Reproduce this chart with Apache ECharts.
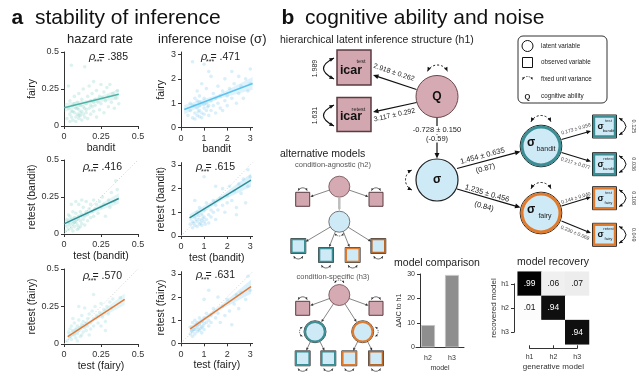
<!DOCTYPE html>
<html><head><meta charset="utf-8">
<script src="https://cdn.jsdelivr.net/npm/echarts@6/dist/echarts.min.js"></script>
<style>html,body{margin:0;padding:0;background:#fff}#c{width:639px;height:376px}</style>
</head><body><div id="c"></div>
<script>
// ---------------- DATA ----------------
const hazardTicks = [0, 0.25, 0.5];
const noiseTicks = [0, 1, 2, 3];
const xNames = ['bandit', 'bandit', 'test (bandit)', 'test (bandit)', 'test (fairy)', 'test (fairy)'];
const yNames = ['fairy', 'fairy', 'retest (bandit)', 'retest (bandit)', 'retest (fairy)', 'retest (fairy)'];
const columnTitles = ['hazard rate', 'inference noise (σ)'];
const rhoValues = ['.385', '.471', '.416', '.615', '.570', '.631'];

const r1c1Points = [[0.02,0.05],[0.03,0.12],[0.03,0.27],[0.04,0.08],[0.04,0.03],[0.05,0.1],[0.05,0.06],[0.05,0.41],[0.06,0.14],[0.06,0.04],[0.07,0.09],[0.07,0.2],[0.08,0.06],[0.08,0.12],[0.08,0.03],[0.09,0.16],[0.09,0.08],[0.1,0.05],[0.1,0.11],[0.1,0.22],[0.11,0.07],[0.11,0.14],[0.12,0.04],[0.12,0.1],[0.12,0.18],[0.13,0.08],[0.13,0.25],[0.14,0.12],[0.14,0.06],[0.14,0.4],[0.15,0.15],[0.15,0.09],[0.16,0.2],[0.16,0.05],[0.17,0.12],[0.17,0.27],[0.18,0.17],[0.18,0.08],[0.19,0.22],[0.19,0.13],[0.2,0.1],[0.2,0.3],[0.21,0.18],[0.21,0.14],[0.22,0.24],[0.22,0.06],[0.23,0.16],[0.24,0.2],[0.24,0.11],[0.25,0.28],[0.25,0.15],[0.26,0.19],[0.27,0.09],[0.27,0.23],[0.28,0.17],[0.29,0.26],[0.3,0.13],[0.3,0.2],[0.31,0.28],[0.32,0.16],[0.33,0.22],[0.34,0.12],[0.35,0.19],[0.36,0.24],[0.37,0.15],[0.06,0.1],[0.09,0.12],[0.11,0.09],[0.13,0.13],[0.07,0.15],[0.04,0.17],[0.1,0.07],[0.15,0.11],[0.18,0.14],[0.2,0.16]];
const r1c2Points = [[0.3,0.5],[0.4,0.7],[0.4,1.0],[0.5,0.4],[0.5,0.9],[0.6,0.6],[0.6,1.2],[0.6,0.35],[0.7,0.8],[0.7,0.5],[0.7,1.1],[0.8,0.7],[0.8,0.45],[0.8,1.3],[0.8,0.9],[0.9,0.6],[0.9,1.0],[0.9,0.4],[1.0,0.8],[1.0,1.2],[1.0,0.55],[1.1,0.7],[1.1,1.0],[1.1,1.6],[1.2,0.9],[1.2,0.5],[1.3,1.1],[1.3,0.7],[1.3,2.1],[1.4,0.9],[1.4,1.4],[1.5,0.6],[1.5,1.2],[1.6,1.0],[1.6,1.7],[1.7,0.8],[1.7,1.3],[1.8,1.5],[1.8,0.7],[1.9,1.1],[1.9,2.0],[2.0,1.3],[2.0,0.9],[2.1,1.6],[2.2,1.2],[2.2,2.3],[2.3,1.8],[2.4,1.0],[2.5,1.4],[2.5,2.1],[2.6,1.7],[2.7,1.2],[2.8,2.0],[2.9,1.5],[3.0,2.4],[3.0,1.8],[0.5,2.7],[1.0,2.6],[0.7,1.5],[0.9,1.8],[1.2,2.3],[0.6,0.9],[0.8,1.05],[1.0,0.95],[0.75,0.65],[1.15,0.85]];
const r2c1Points = [[0.01,0.02],[0.02,0.05],[0.03,0.08],[0.03,0.03],[0.04,0.12],[0.04,0.06],[0.05,0.04],[0.05,0.1],[0.06,0.07],[0.06,0.15],[0.07,0.05],[0.07,0.11],[0.08,0.08],[0.08,0.14],[0.09,0.06],[0.09,0.1],[0.1,0.12],[0.1,0.04],[0.1,0.2],[0.11,0.09],[0.11,0.15],[0.12,0.07],[0.12,0.13],[0.13,0.1],[0.13,0.18],[0.14,0.06],[0.14,0.12],[0.15,0.15],[0.15,0.22],[0.16,0.09],[0.16,0.13],[0.17,0.17],[0.18,0.11],[0.18,0.2],[0.19,0.15],[0.2,0.23],[0.2,0.12],[0.21,0.17],[0.22,0.2],[0.23,0.14],[0.24,0.22],[0.25,0.18],[0.26,0.25],[0.27,0.2],[0.28,0.12],[0.3,0.23],[0.31,0.18],[0.32,0.28],[0.34,0.22],[0.36,0.3],[0.35,0.36],[0.05,0.2],[0.08,0.22],[0.12,0.23],[0.03,0.13],[0.07,0.08],[0.09,0.03],[0.11,0.05],[0.02,0.1],[0.06,0.02]];
const r2c2Points = [[0.4,0.5],[0.5,0.6],[0.5,0.35],[0.6,0.8],[0.6,0.45],[0.7,0.6],[0.7,1.0],[0.7,0.4],[0.8,0.7],[0.8,0.5],[0.8,1.2],[0.9,0.65],[0.9,0.9],[0.9,0.45],[1.0,0.8],[1.0,1.1],[1.0,0.6],[1.1,0.7],[1.1,1.4],[1.2,0.9],[1.2,0.55],[1.3,1.1],[1.3,0.8],[1.4,1.5],[1.4,1.0],[1.5,1.3],[1.5,0.7],[1.6,1.1],[1.7,1.6],[1.8,1.3],[1.8,2.0],[1.9,1.0],[2.0,1.7],[2.0,1.4],[2.1,2.1],[2.2,1.5],[2.3,1.9],[2.4,1.2],[2.5,2.2],[2.6,1.8],[2.7,2.4],[2.8,1.4],[2.9,2.1],[3.0,2.5],[1.0,2.5],[1.5,2.1],[0.6,1.5],[0.65,0.7],[0.75,0.85],[0.85,0.55],[0.95,0.75],[0.55,0.55],[1.05,0.5],[2.4,0.9],[2.9,2.8]];
const r3c1Points = [[0.02,0.02],[0.03,0.08],[0.04,0.05],[0.05,0.12],[0.05,0.03],[0.06,0.09],[0.07,0.06],[0.07,0.14],[0.08,0.1],[0.08,0.04],[0.09,0.12],[0.09,0.07],[0.1,0.16],[0.1,0.09],[0.11,0.11],[0.11,0.05],[0.12,0.13],[0.12,0.19],[0.13,0.08],[0.13,0.15],[0.14,0.11],[0.14,0.24],[0.15,0.14],[0.15,0.09],[0.16,0.17],[0.16,0.12],[0.17,0.2],[0.18,0.14],[0.18,0.1],[0.19,0.22],[0.2,0.17],[0.2,0.12],[0.21,0.25],[0.22,0.19],[0.23,0.14],[0.24,0.21],[0.25,0.27],[0.26,0.18],[0.27,0.23],[0.28,0.15],[0.29,0.25],[0.3,0.2],[0.31,0.28],[0.32,0.24],[0.28,0.09],[0.2,0.33],[0.1,0.25],[0.06,0.17],[0.04,0.1],[0.09,0.02],[0.12,0.06],[0.17,0.06],[0.33,0.3],[0.38,0.31],[0.25,0.12]];
const r3c2Points = [[0.4,0.4],[0.4,0.7],[0.5,0.5],[0.5,0.3],[0.5,0.9],[0.6,0.6],[0.6,0.4],[0.6,1.0],[0.7,0.7],[0.7,0.5],[0.7,0.9],[0.8,0.8],[0.8,0.55],[0.8,1.1],[0.9,0.7],[0.9,0.95],[0.9,0.45],[1.0,0.85],[1.0,1.1],[1.0,0.6],[1.1,0.9],[1.1,1.3],[1.2,0.75],[1.2,1.0],[1.3,1.2],[1.3,0.9],[1.4,1.5],[1.5,1.1],[1.6,1.3],[1.7,0.9],[1.8,1.6],[1.9,1.2],[2.0,1.9],[2.1,1.4],[2.2,0.8],[2.3,1.7],[2.4,2.1],[2.5,1.5],[2.6,2.2],[2.8,1.9],[2.9,2.9],[3.0,2.3],[1.0,1.9],[1.2,2.3],[0.55,0.6],[0.65,0.8],[0.75,0.6],[0.85,0.65],[0.45,0.55],[0.95,0.75],[1.6,2.0]];

const r1c1Fit = [[0, 0.124], [0.37, 0.214]];
const r1c2Fit = [[0.14, 0.74], [3.1, 1.81]];
const r2c1Fit = [[0, 0.068], [0.37, 0.24]];
const r2c2Fit = [[0.37, 0.77], [3.03, 2.36]];
const r3c1Fit = [[0.025, 0.049], [0.41, 0.298]];
const r3c2Fit = [[0.40, 0.62], [3.03, 2.45]];

const r1c1Band = [[0, 0.095, 0.153], [0.18, 0.152, 0.178], [0.37, 0.180, 0.248]];
const r1c2Band = [[0.14, 0.55, 0.93], [1.6, 1.17, 1.35], [3.1, 1.55, 2.07]];
const r2c1Band = [[0, 0.045, 0.091], [0.18, 0.136, 0.162], [0.37, 0.205, 0.275]];
const r2c2Band = [[0.37, 0.62, 0.92], [1.7, 1.47, 1.67], [3.03, 2.08, 2.64]];
const r3c1Band = [[0.025, 0.025, 0.073], [0.2, 0.15, 0.175], [0.41, 0.26, 0.336]];
const r3c2Band = [[0.4, 0.5, 0.74], [1.7, 1.45, 1.63], [3.03, 2.15, 2.75]];

const modelCats = ['h2', 'h3'];
const deltaAIC = [9.1, 29.6];
const aicTicks = [0, 10, 20, 30];
const recoveryCats = ['h1', 'h2', 'h3'];
const recoveryRows = [[0.99, 0.06, 0.07], [0.01, 0.94, 0], [0, 0, 0.94]];

const pathEstimates = {
  icarTest: '2.918 ± 0.262', icarRetest: '3.117 ± 0.292', qSigma: '-0.728 ± 0.150', qSigmaStd: '(-0.59)',
  sBandit: '1.454 ± 0.635', sBanditStd: '(0.87)', sFairy: '1.235 ± 0.456', sFairyStd: '(0.84)',
  bTest: '0.173 ± 0.058', bRetest: '0.217 ± 0.077', fTest: '0.144 ± 0.040', fRetest: '0.230 ± 0.069'
};
const residuals = { icarTest: '1.989', icarRetest: '1.631', bTest: '0.125', bRetest: '0.036', fTest: '0.108', fRetest: '0.049' };

// ---------------- STYLE / LAYOUT ----------------
const FONT = '"Liberation Sans", Arial, Helvetica, sans-serif';
const TEAL = '#3b8e93', ORANGE = '#e07b2e', BROWN = '#b5672c';
const PINK = '#d3a7af', PINKS = '#6a474d', BLUE = '#cfeaf7', DARK = '#1e1e1e';

const panelLayout = [
  {left: 64, top: 52, width: 74, height: 74, max: 0.5},
  {left: 181, top: 52, width: 71.6, height: 75.6, max: 3.1},
  {left: 64, top: 160, width: 74, height: 74, max: 0.5},
  {left: 181, top: 162.6, width: 71.6, height: 73.4, max: 3.1},
  {left: 64, top: 269, width: 74, height: 75, max: 0.5},
  {left: 181, top: 271.7, width: 71.6, height: 71.6, max: 3.1}
];
const panelData = [
  {pts: r1c1Points, fit: r1c1Fit, band: r1c1Band},
  {pts: r1c2Points, fit: r1c2Fit, band: r1c2Band},
  {pts: r2c1Points, fit: r2c1Fit, band: r2c1Band},
  {pts: r2c2Points, fit: r2c2Fit, band: r2c2Band},
  {pts: r3c1Points, fit: r3c1Fit, band: r3c1Band},
  {pts: r3c2Points, fit: r3c2Fit, band: r3c2Band}
];
const panelStyle = [
  {dot: 'rgba(128,208,198,0.34)', line: '#4bb3a5', band: 'rgba(100,195,180,0.16)'},
  {dot: 'rgba(130,204,240,0.38)', line: '#5cc3ef', band: 'rgba(110,200,240,0.22)'},
  {dot: 'rgba(128,208,198,0.34)', line: '#2e8e94', band: 'rgba(100,195,200,0.18)'},
  {dot: 'rgba(130,204,240,0.38)', line: '#2e8e94', band: 'rgba(110,200,240,0.25)'},
  {dot: 'rgba(135,212,215,0.34)', line: '#e27a35', band: 'rgba(110,205,225,0.2)'},
  {dot: 'rgba(130,204,240,0.38)', line: '#e27a35', band: 'rgba(110,200,240,0.25)'}
];
const rhoPos = [[89, 57], [201, 57], [83, 167], [196, 167], [83, 276], [196, 275]];

const grids = [], xAxes = [], yAxes = [], series = [];
panelLayout.forEach((p, i) => {
  const col = i % 2;
  grids.push({left: p.left, top: p.top, width: p.width, height: p.height});
  const ticks = col === 0 ? hazardTicks : noiseTicks;
  const axisCommon = {
    type: 'value', gridIndex: i, min: 0, max: p.max,
    axisLine: {show: true, onZero: false, lineStyle: {color: '#333', width: 1}},
    axisTick: {show: true, length: 3, customValues: ticks, lineStyle: {color: '#333'}},
    axisLabel: {customValues: ticks, fontSize: 9, color: '#333', fontFamily: FONT, margin: 5},
    splitLine: {show: false},
    nameLocation: 'middle', nameTextStyle: {fontSize: 10.5, color: '#222', fontFamily: FONT}
  };
  xAxes.push(Object.assign({}, axisCommon, {name: xNames[i], nameGap: 15,
    axisLabel: Object.assign({}, axisCommon.axisLabel, {margin: 6.5})}));
  yAxes.push(Object.assign({}, axisCommon, {name: yNames[i], nameGap: col === 0 ? 25 : 11}));
  const d = panelData[i], s = panelStyle[i];
  series.push({
    type: 'custom', xAxisIndex: i, yAxisIndex: i, silent: true, z: 1, data: [[0, 0]],
    renderItem: (params, api) => {
      const lo = d.band.map(b => api.coord([b[0], b[1]]));
      const hi = d.band.map(b => api.coord([b[0], b[2]])).reverse();
      return {type: 'polygon', shape: {points: lo.concat(hi)}, style: {fill: s.band}};
    }
  });
  series.push({type: 'scatter', xAxisIndex: i, yAxisIndex: i, data: d.pts, symbolSize: 3.6, silent: true, z: 2,
    itemStyle: {color: s.dot}});
  if (i >= 2) {
    series.push({type: 'line', xAxisIndex: i, yAxisIndex: i, data: [[0, 0], [p.max, p.max]], showSymbol: false, silent: true, z: 1,
      lineStyle: {color: '#d0d0d0', width: 1, type: [1, 2]}});
  }
  series.push({type: 'line', xAxisIndex: i, yAxisIndex: i, data: d.fit, showSymbol: false, silent: true, z: 3,
    lineStyle: {color: s.line, width: 1.5}});
});

// model comparison bar chart (grid 6)
grids.push({left: 416, top: 274, width: 48, height: 73.3});
xAxes.push({type: 'category', gridIndex: 6, data: modelCats,
  axisLine: {lineStyle: {color: '#333'}}, axisTick: {alignWithLabel: true, length: 3, lineStyle: {color: '#333'}},
  axisLabel: {fontSize: 7, color: '#333', fontFamily: FONT, margin: 7},
  name: 'model', nameLocation: 'middle', nameGap: 17, nameTextStyle: {fontSize: 7, color: '#333', fontFamily: FONT}});
yAxes.push({type: 'value', gridIndex: 6, min: 0, max: 30, interval: 10, offset: -4,
  axisLine: {show: true, lineStyle: {color: '#333'}}, axisTick: {show: true, length: 3, lineStyle: {color: '#333'}},
  axisLabel: {fontSize: 7, color: '#333', fontFamily: FONT, margin: 5, customValues: aicTicks}, splitLine: {show: false},
  name: 'ΔAIC to h1', nameLocation: 'middle', nameGap: 17, nameTextStyle: {fontSize: 7, color: '#333', fontFamily: FONT}});
series.push({type: 'bar', xAxisIndex: 6, yAxisIndex: 6, data: deltaAIC, barWidth: 14, silent: true,
  itemStyle: {color: '#8e8e8e', borderColor: '#c4c4c4', borderWidth: 0.8}});

// model recovery heatmap (grid 7) + bracket axes (grids 8, 9)
grids.push({left: 517.7, top: 271.7, width: 71.3, height: 72.6});
xAxes.push({type: 'category', gridIndex: 7, data: recoveryCats, show: false});
yAxes.push({type: 'category', gridIndex: 7, data: recoveryCats, inverse: true, show: false});
const heatData = [];
recoveryRows.forEach((row, r) => row.forEach((v, c) => heatData.push([c, r, v])));
const heatIndex = series.length;
series.push({type: 'heatmap', xAxisIndex: 7, yAxisIndex: 7, silent: true,
  data: heatData.map(d => ({value: d, label: {show: d[2] > 0, color: d[2] > 0.5 ? '#fff' : '#111'}})),
  label: {show: true, fontSize: 8.5, fontFamily: FONT, formatter: p => p.value[2].toFixed(2).replace(/^0/, '')}});
grids.push({left: 529.6, top: 338, width: 47.6, height: 10.3});
xAxes.push({type: 'category', gridIndex: 8, data: recoveryCats, boundaryGap: false,
  axisLine: {lineStyle: {color: '#333'}}, axisTick: {inside: true, length: 3, lineStyle: {color: '#333'}},
  axisLabel: {fontSize: 7, color: '#333', fontFamily: FONT, margin: 5},
  name: 'generative model', nameLocation: 'middle', nameGap: 14, nameTextStyle: {fontSize: 8, color: '#333', fontFamily: FONT}});
yAxes.push({type: 'value', gridIndex: 8, show: false});
grids.push({left: 514, top: 283.8, width: 10, height: 48.4});
xAxes.push({type: 'value', gridIndex: 9, show: false});
yAxes.push({type: 'category', gridIndex: 9, data: recoveryCats, inverse: true, boundaryGap: false,
  axisLine: {lineStyle: {color: '#333'}}, axisTick: {length: 3, lineStyle: {color: '#333'}},
  axisLabel: {fontSize: 7, color: '#333', fontFamily: FONT, margin: 5},
  name: 'recovered model', nameLocation: 'middle', nameGap: 15, nameTextStyle: {fontSize: 8, color: '#333', fontFamily: FONT}});

// ---------------- GRAPHIC (titles, texts, SEM diagram) ----------------
const G = [];
function T(x, y, s, o) {
  o = o || {};
  G.push({type: 'text', x: x, y: y, rotation: o.rot || 0, silent: true, z: o.z || 30,
    style: {text: s, fontFamily: FONT, fontSize: o.size || 10, fontWeight: o.bold ? 'bold' : 'normal',
      fontStyle: o.italic ? 'italic' : 'normal', fill: o.color || '#222', align: o.align || 'center',
      verticalAlign: o.va || 'middle', backgroundColor: o.bg || null, padding: o.bg ? [0, 1] : 0}});
}
function L(x1, y1, x2, y2, o) {
  o = o || {};
  G.push({type: 'line', silent: true, z: o.z || 15, shape: {x1, y1, x2, y2},
    style: {stroke: o.color || '#111', lineWidth: o.w || 1, lineDash: o.dash || null}});
}
function head(x, y, ang, s, color, z) {
  const a1 = ang + Math.PI - 0.42, a2 = ang + Math.PI + 0.42;
  G.push({type: 'polygon', silent: true, z: z || 16, shape: {points: [[x, y],
    [x + s * Math.cos(a1), y + s * Math.sin(a1)], [x + s * Math.cos(a2), y + s * Math.sin(a2)]]},
    style: {fill: color || '#111'}});
}
function A(x1, y1, x2, y2, o) {
  o = o || {};
  const ang = Math.atan2(y2 - y1, x2 - x1), s = o.head || 6;
  L(x1, y1, x2 - Math.cos(ang) * s * 0.7, y2 - Math.sin(ang) * s * 0.7, o);
  head(x2, y2, ang, s, o.color, o.z);
}
function arcA(cx, cy, r, a0, a1, o) {
  o = o || {};
  const s0 = a0 * Math.PI / 180, s1 = a1 * Math.PI / 180, hs = o.head || 4, col = o.color || '#111';
  G.push({type: 'arc', silent: true, z: 16, shape: {cx, cy, r, startAngle: s0, endAngle: s1, clockwise: true},
    style: {stroke: col, lineWidth: o.w || 1, fill: 'none', lineDash: o.dash === false ? null : (o.dash || [2, 2])}});
  head(cx + r * Math.cos(s1), cy + r * Math.sin(s1), Math.atan2(Math.cos(s1), -Math.sin(s1)), hs, col);
  head(cx + r * Math.cos(s0), cy + r * Math.sin(s0), Math.atan2(-Math.cos(s0), Math.sin(s0)), hs, col);
}
function curveA(x1, y1, cx, cy, x2, y2, o) {
  o = o || {};
  const hs = o.head || 5;
  G.push({type: 'bezierCurve', silent: true, z: 16, shape: {x1, y1, x2, y2, cpx1: cx, cpy1: cy},
    style: {stroke: '#111', lineWidth: o.w || 1.2, fill: 'none'}});
  head(x1, y1, Math.atan2(y1 - cy, x1 - cx), hs);
  head(x2, y2, Math.atan2(y2 - cy, x2 - cx), hs);
}
function C(cx, cy, r, fill, stroke, w, z) {
  G.push({type: 'circle', silent: true, z: z || 12, shape: {cx, cy, r}, style: {fill: fill, stroke: stroke, lineWidth: w || 1}});
}
function R(x, y, wd, ht, fill, stroke, w, z, rr) {
  G.push({type: 'rect', silent: true, z: z || 12, shape: {x, y, width: wd, height: ht, r: rr || 0},
    style: {fill: fill, stroke: stroke, lineWidth: w || 1}});
}

// titles panel a
T(11.5, 18, 'a', {size: 21, bold: true, align: 'left', color: '#111'});
T(35, 18, 'stability of inference', {size: 21, align: 'left', color: '#111'});
T(100, 39, columnTitles[0], {size: 13});
T(158, 39, columnTitles[1], {size: 13, align: 'left'});
rhoPos.forEach((p, i) => {
  T(p[0], p[1], 'ρ', {size: 11, italic: true, align: 'left'});
  T(p[0] + 5, p[1] + 5, '***', {size: 7, align: 'left'});
  T(p[0] + 9.5, p[1], '= ' + rhoValues[i], {size: 10.5, align: 'left'});
});

// titles panel b
T(281.5, 18, 'b', {size: 21, bold: true, align: 'left', color: '#111'});
T(305, 18, 'cognitive ability and noise', {size: 21, align: 'left', color: '#111'});
T(280, 40, 'hierarchical latent inference structure (h1)', {size: 10.5, align: 'left'});
T(437, 263, 'model comparison', {size: 10.5});
T(553, 262, 'model recovery', {size: 10.5});

// ---- h1 diagram ----
R(337, 50, 34, 35, PINK, '#5b3b41', 1.5);
T(351, 70.5, 'icar', {size: 12.5, bold: true, color: '#111'});
T(361, 61.5, 'test', {size: 5.5});
R(337, 97.5, 34, 34, PINK, '#5b3b41', 1.5);
T(351, 117, 'icar', {size: 12.5, bold: true, color: '#111'});
T(358.5, 109, 'retest', {size: 5.5});
curveA(334, 58, 313, 68.5, 334, 79);
curveA(334, 105, 313, 115.5, 334, 126);
T(315, 68.5, residuals.icarTest, {size: 7, rot: Math.PI / 2});
T(315, 115.5, residuals.icarRetest, {size: 7, rot: Math.PI / 2});

C(437, 96.5, 21, '#d6aab2', PINKS, 1);
T(437, 97, 'Q', {size: 12, bold: true, color: '#111'});
arcA(437.5, 76, 11, 205, 335, {head: 4.5});
A(416.5, 89.5, 373, 75, {w: 1.2});
A(416.5, 102.5, 373, 112, {w: 1.2});
T(394, 72.5, pathEstimates.icarTest, {size: 7, rot: -Math.atan((89.5 - 75) / (416.5 - 373))});
T(394.5, 115, pathEstimates.icarRetest, {size: 7, rot: Math.atan((112 - 102.5) / (416.5 - 373))});

A(437, 118, 437, 158.5, {w: 1.2});
T(437, 130, pathEstimates.qSigma, {size: 7.5, bg: '#fff'});
T(437, 138.5, pathEstimates.qSigmaStd, {size: 7.5, bg: '#fff'});

C(437, 180, 21, BLUE, DARK, 1.2);
T(437, 180, 'σ', {size: 12, bold: true, color: '#111'});
arcA(416.5, 180, 11, 115, 245, {head: 4.5});

function latentRing(cx, cy, col) {
  C(cx, cy, 20.8, 'none', DARK, 1, 11);
  C(cx, cy, 19, BLUE, col, 3, 12);
}
latentRing(541, 146, TEAL);
T(531, 143, 'σ', {size: 12, bold: true, color: '#111'});
T(546, 149, 'bandit', {size: 7});
latentRing(541, 213, ORANGE);
T(531, 210, 'σ', {size: 12, bold: true, color: '#111'});
T(545, 216, 'fairy', {size: 7});
arcA(541, 126.5, 11, 205, 335, {head: 4.5});
arcA(541, 193.5, 11, 205, 335, {head: 4.5});

A(457, 168.5, 520.5, 151.5, {w: 1.2});
A(457, 189, 520.5, 207.5, {w: 1.2});
T(482.5, 156, pathEstimates.sBandit, {size: 7.5, rot: Math.atan(17 / 63.5)});
T(485.5, 168.5, pathEstimates.sBanditStd, {size: 7.5, rot: Math.atan(17 / 63.5)});
T(487, 193.5, pathEstimates.sFairy, {size: 7.5, rot: -Math.atan(18.5 / 63.5)});
T(484, 206.5, pathEstimates.sFairyStd, {size: 7.5, rot: -Math.atan(18.5 / 63.5)});

function obsBox(y, col, sup, sub) {
  R(592.5, y, 24, 23, 'none', DARK, 1, 11);
  R(594, y + 1.5, 21, 20, BLUE, col, 2.4, 12);
  T(600.5, y + 11.5, 'σ', {size: 9, bold: true, color: '#111'});
  T(608.5, y + 6, sup, {size: 4.2});
  T(608.5, y + 16, sub, {size: 4.2});
}
obsBox(115, TEAL, 'test', 'bandit');
obsBox(152.7, TEAL, 'retest', 'bandit');
obsBox(186.7, ORANGE, 'test', 'fairy');
obsBox(223.3, ORANGE, 'retest', 'fairy');

A(561.5, 139.5, 591, 131, {w: 1.1, head: 5});
A(561.5, 152.5, 591, 161.5, {w: 1.1, head: 5});
A(561.5, 206, 591, 197, {w: 1.1, head: 5});
A(561.5, 221, 591, 233, {w: 1.1, head: 5});
T(576, 129, pathEstimates.bTest, {size: 5, color: '#444', rot: Math.atan(8.5 / 29.5)});
T(575.5, 163.5, pathEstimates.bRetest, {size: 5, color: '#444', rot: -Math.atan(9 / 29.5)});
T(576, 198, pathEstimates.fTest, {size: 5, color: '#444', rot: Math.atan(9 / 29.5)});
T(575, 233, pathEstimates.fRetest, {size: 5, color: '#444', rot: -Math.atan(12 / 29.5)});

[[126.5, residuals.bTest], [164.2, residuals.bRetest], [198.2, residuals.fTest], [234.8, residuals.fRetest]].forEach(r => {
  curveA(619, r[0] - 8.5, 633, r[0], 619, r[0] + 8.5, {head: 4, w: 1});
  T(634, r[0], r[1], {size: 5.5, color: '#444', rot: -Math.PI / 2});
});

// legend box
R(518, 36, 89, 67, '#fff', '#333', 1, 10, 5);
C(527.5, 46, 5.5, 'none', '#111', 1, 12);
T(541, 46, 'latent variable', {size: 6.3, align: 'left'});
R(522.5, 57.5, 10, 10, 'none', '#111', 1, 12);
T(541, 62.5, 'observed variable', {size: 6.3, align: 'left'});
arcA(527.5, 82, 5.5, 205, 335, {head: 2.8, w: 0.8, dash: [1.2, 1.2]});
T(541, 79.5, 'fixed unit variance', {size: 6.3, align: 'left'});
T(527.5, 96.5, 'Q', {size: 7.5, bold: true});
T(541, 96.5, 'cognitive ability', {size: 6.3, align: 'left'});

// ---- alternative models ----
T(280, 154, 'alternative models', {size: 10.5, align: 'left'});
T(333, 165, 'condition-agnostic (h2)', {size: 7.5, color: '#555'});
T(333, 276.5, 'condition-specific (h3)', {size: 7.5, color: '#555'});

function miniBox(cx, cy, kind) {
  if (kind === 'pink') { R(cx - 7, cy - 7, 14, 14, PINK, '#5b3b41', 1, 12); return; }
  const col = kind === 'teal' ? TEAL : (kind === 'orange' ? ORANGE : BROWN);
  R(cx - 7.5, cy - 7.5, 15, 15, 'none', DARK, 0.8, 11);
  R(cx - 6.5, cy - 6.5, 13, 13, BLUE, col, 1.6, 12);
}
function miniCircle(cx, cy, kind) {
  if (kind === 'pink') { C(cx, cy, 10.5, '#d6aab2', PINKS, 0.8); return; }
  if (kind === 'blue') { C(cx, cy, 10.5, BLUE, '#555', 0.8); return; }
  C(cx, cy, 11, 'none', DARK, 0.8, 11);
  C(cx, cy, 9.8, BLUE, kind === 'teal' ? TEAL : ORANGE, 2, 12);
}
function miniArrow(x1, y1, r1, x2, y2, r2, o) {
  const ang = Math.atan2(y2 - y1, x2 - x1);
  A(x1 + Math.cos(ang) * r1, y1 + Math.sin(ang) * r1, x2 - Math.cos(ang) * r2, y2 - Math.sin(ang) * r2,
    Object.assign({w: 0.6, head: 3.2, color: '#333'}, o || {}));
}
// h2
miniCircle(339.3, 186.7, 'pink');
miniBox(302.7, 199.3, 'pink'); miniBox(376, 199.3, 'pink');
arcA(302.7, 192.8, 5, 205, 335, {head: 2.6, w: 0.7, dash: false, color: '#333'});
arcA(376, 192.8, 5, 205, 335, {head: 2.6, w: 0.7, dash: false, color: '#333'});
miniArrow(339.3, 186.7, 10.5, 302.7, 199.3, 8);
miniArrow(339.3, 186.7, 10.5, 376, 199.3, 8);
A(339.3, 197.5, 339.3, 211, {w: 2.5, head: 3.5, color: '#bdbdbd'});
miniCircle(339.3, 221.7, 'blue');
arcA(339.3, 231.5, 4.5, 25, 155, {head: 2.4, w: 0.7, dash: [1, 1]});
[[298.3, 246, 'teal'], [326, 255, 'teal'], [352.7, 255, 'orange'], [378.3, 246, 'brown']].forEach(b => {
  miniBox(b[0], b[1], b[2]);
  miniArrow(339.3, 221.7, 10.5, b[0], b[1], 8.5);
  arcA(b[0], b[1] + 8, 5, 25, 155, {head: 2.6, w: 0.7, dash: false, color: '#333'});
});
// h3
miniCircle(339.3, 295, 'pink');
arcA(339.3, 285, 5, 205, 335, {head: 2.4, w: 0.7, dash: [1, 1]});
miniBox(302.7, 308.3, 'pink'); miniBox(376, 308.3, 'pink');
arcA(302.7, 301.8, 5, 205, 335, {head: 2.6, w: 0.7, dash: false, color: '#333'});
arcA(376, 301.8, 5, 205, 335, {head: 2.6, w: 0.7, dash: false, color: '#333'});
miniArrow(339.3, 295, 10.5, 302.7, 308.3, 8);
miniArrow(339.3, 295, 10.5, 376, 308.3, 8);
miniCircle(315, 331.7, 'teal');
miniCircle(362.7, 331.7, 'orange');
miniArrow(339.3, 295, 10.5, 315, 331.7, 11.5);
miniArrow(339.3, 295, 10.5, 362.7, 331.7, 11.5);
arcA(304.5, 331.7, 5, 115, 245, {head: 2.4, w: 0.7, dash: [1, 1]});
arcA(373.2, 331.7, 5, -65, 65, {head: 2.4, w: 0.7, dash: [1, 1]});
[[302.7, 315, 'teal'], [328.3, 315, 'teal'], [349.3, 362.7, 'orange'], [376, 362.7, 'brown']].forEach(b => {
  miniBox(b[0], 358.3, b[2]);
  miniArrow(b[1], 331.7, 11, b[0], 358.3, 8.5);
  arcA(b[0], 366.3, 5, 25, 155, {head: 2.6, w: 0.7, dash: false, color: '#333'});
});

// ---------------- CHART ----------------
const chart = echarts.init(document.getElementById('c'), null, {renderer: 'canvas', width: 639, height: 376});
chart.setOption({
  animation: false,
  backgroundColor: '#ffffff',
  textStyle: {fontFamily: FONT},
  grid: grids, xAxis: xAxes, yAxis: yAxes, series: series,
  visualMap: [{type: 'continuous', show: false, min: 0, max: 1, seriesIndex: heatIndex, inRange: {color: ['#ffffff', '#000000']}}],
  graphic: {elements: G}
});
</script></body></html>
